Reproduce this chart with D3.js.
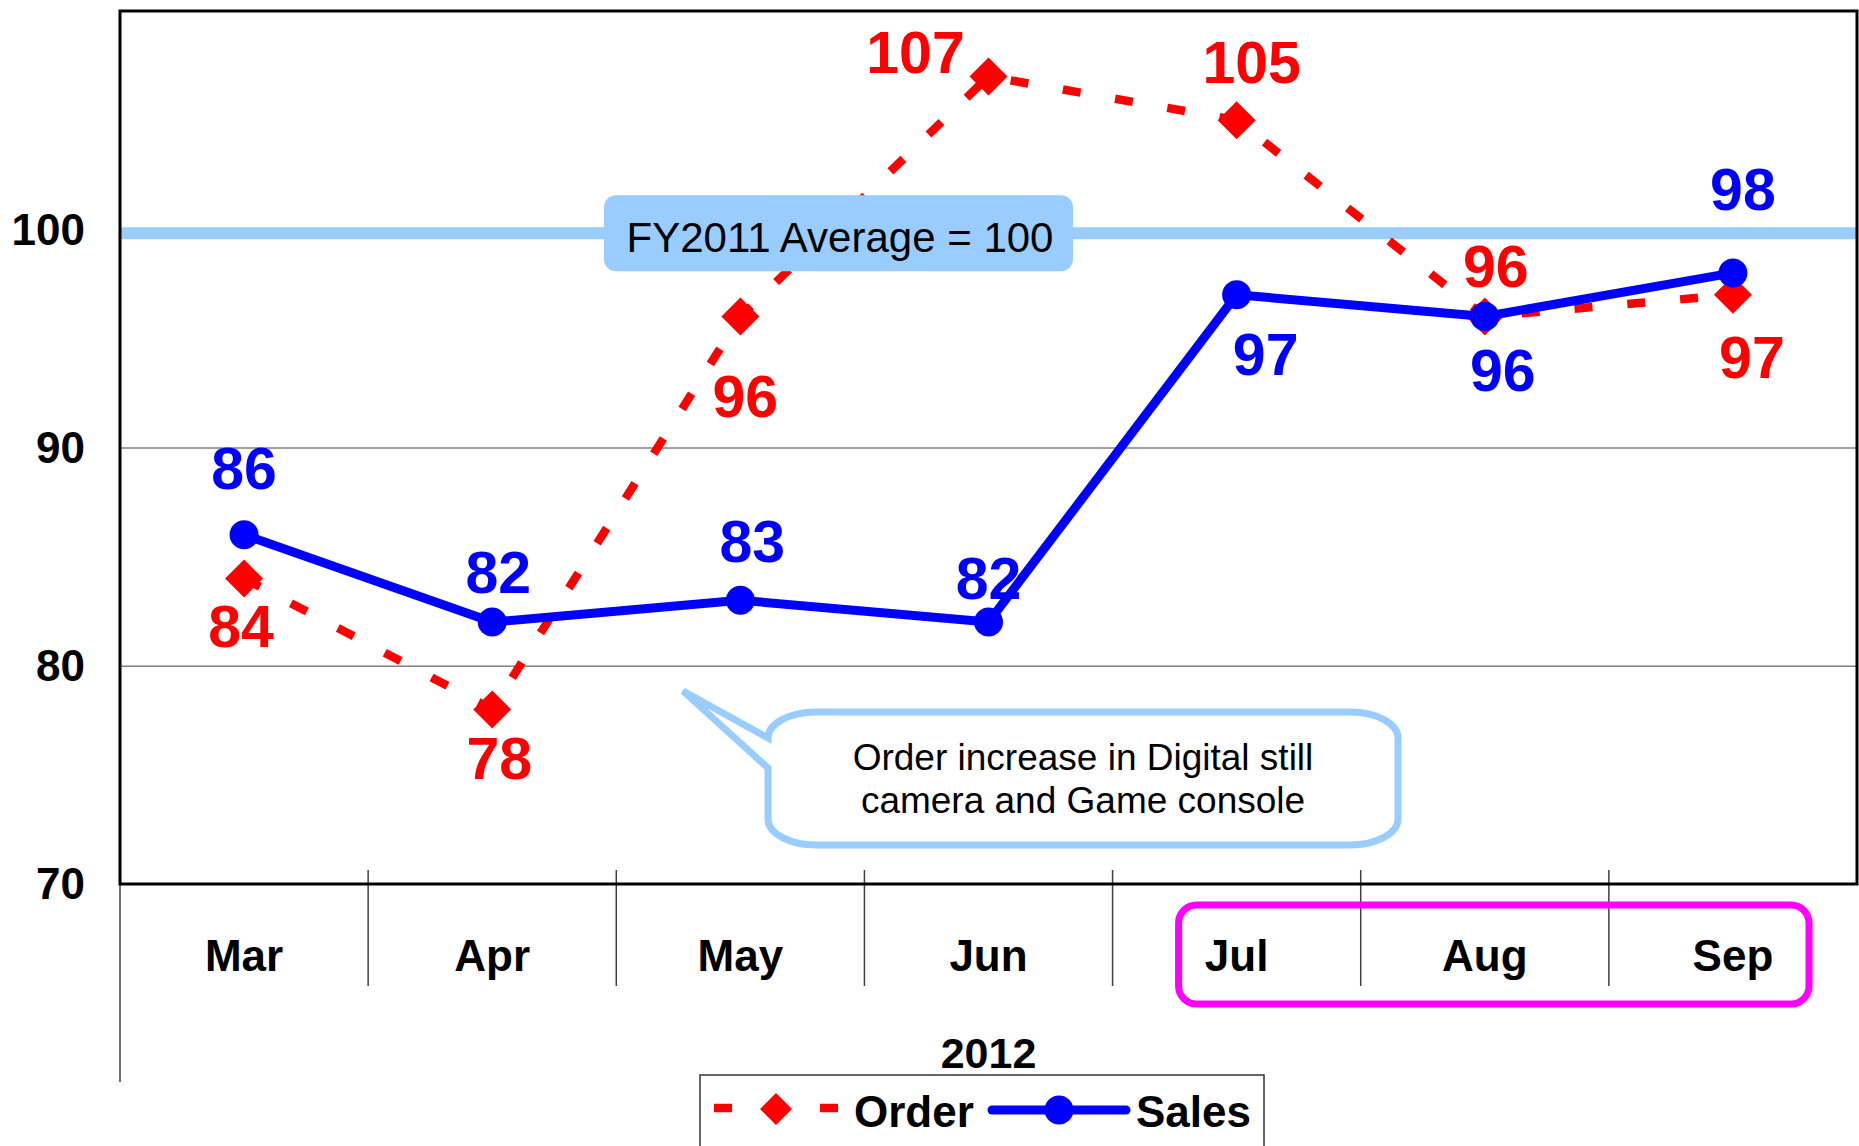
<!DOCTYPE html>
<html>
<head>
<meta charset="utf-8">
<script src="https://cdn.jsdelivr.net/npm/d3@7"></script>
<style>
  body { margin: 0; background: #fff; }
  svg { display: block; font-family: "Liberation Sans", Arial, sans-serif; }
</style>
</head>
<body>
<svg width="1859" height="1146"></svg>
<script>
// chart data
var months = ["Mar", "Apr", "May", "Jun", "Jul", "Aug", "Sep"];
var orderValues = [84, 78, 96, 107, 105, 96, 97];
var salesValues = [86, 82, 83, 82, 97, 96, 98];
var yTicks = [70, 80, 90, 100];
var yearLabel = "2012";
var averageValue = 100;
var averageText = "FY2011 Average = 100";
var calloutLines = ["Order increase in Digital still", "camera and Game console"];

// label placement (dx, dy from the point)
var orderLabelOffset = [[-3, 69], [7, 70], [5, 100], [-73, -3], [15, -37], [11, -30], [19, 83]];
var salesLabelOffset = [[0, -46], [6, -29], [12, -38], [0, -23], [29, 80], [18, 74], [10, -63]];

var svg = d3.select("svg"),
    width = +svg.attr("width"),
    height = +svg.attr("height");

var plot = { left: 120, right: 1857, top: 11, bottom: 884 };

var x = d3.scaleBand()
    .domain(months)
    .range([plot.left, plot.right])
    .padding(0);

var y = d3.scaleLinear()
    .domain([70, 110])
    .range([plot.bottom, plot.top]);

function cx(d, i) { return x(months[i]) + x.bandwidth() / 2; }

var red = "#ff0000", blue = "#0000ff", lightBlue = "#99ccff";

// gridlines
svg.append("g")
    .attr("transform", "translate(" + plot.left + ",0)")
    .call(d3.axisLeft(y).tickValues([80, 90]).tickSize(-(plot.right - plot.left)).tickFormat(""))
    .call(function (g) { g.select(".domain").remove(); })
    .selectAll("line")
    .attr("stroke", "#808080")
    .attr("stroke-width", 1.5);

// average line (drawn a touch below the 100 mark, as in the source)
var avgY = y(averageValue) + 4;
svg.append("line")
    .attr("x1", plot.left)
    .attr("x2", plot.right)
    .attr("y1", avgY)
    .attr("y2", avgY)
    .attr("stroke", lightBlue)
    .attr("stroke-width", 12);

// y axis labels
svg.append("g")
    .attr("transform", "translate(" + plot.left + ",0)")
    .call(d3.axisLeft(y).tickValues(yTicks).tickSize(0).tickPadding(35))
    .call(function (g) { g.select(".domain").remove(); })
    .selectAll("text")
    .attr("font-size", 44)
    .attr("font-weight", "bold")
    .attr("font-family", "Liberation Sans, Arial, sans-serif")
    .attr("fill", "#000")
    .attr("dy", "0.34em");

// month labels
svg.append("g")
    .attr("transform", "translate(0," + plot.bottom + ")")
    .call(d3.axisBottom(x).tickSize(0))
    .call(function (g) { g.select(".domain").remove(); })
    .selectAll("text")
    .attr("y", 87)
    .attr("dy", 0)
    .attr("font-size", 44)
    .attr("font-weight", "bold")
    .attr("font-family", "Liberation Sans, Arial, sans-serif")
    .attr("fill", "#000");

// category separators
svg.append("g")
    .selectAll("line")
    .data(months.slice(1))
    .enter().append("line")
    .attr("x1", function (d) { return x(d); })
    .attr("x2", function (d) { return x(d); })
    .attr("y1", plot.bottom - 14)
    .attr("y2", plot.bottom + 102)
    .attr("stroke", "#404040")
    .attr("stroke-width", 1.5);

// outer left line of the category axis
svg.append("line")
    .attr("x1", plot.left).attr("x2", plot.left)
    .attr("y1", plot.bottom).attr("y2", 1082)
    .attr("stroke", "#404040")
    .attr("stroke-width", 1.5);

svg.append("text")
    .attr("x", (plot.left + plot.right) / 2)
    .attr("y", 1068)
    .attr("text-anchor", "middle")
    .attr("font-size", 43)
    .attr("font-weight", "bold")
    .text(yearLabel);

// magenta highlight round Jul..Sep
svg.append("rect")
    .attr("x", x("Jul") + 66)
    .attr("y", 905)
    .attr("width", x("Sep") + x.bandwidth() - 48 - (x("Jul") + 66))
    .attr("height", 99)
    .attr("rx", 18)
    .attr("fill", "none")
    .attr("stroke", "#ff00ff")
    .attr("stroke-width", 7);

// plot frame
svg.append("rect")
    .attr("x", plot.left)
    .attr("y", plot.top)
    .attr("width", plot.right - plot.left)
    .attr("height", plot.bottom - plot.top)
    .attr("fill", "none")
    .attr("stroke", "#000")
    .attr("stroke-width", 3);

// order series (dashed)
var line = d3.line()
    .x(cx)
    .y(function (d) { return y(d); });

svg.append("path")
    .datum(orderValues)
    .attr("d", line)
    .attr("fill", "none")
    .attr("stroke", red)
    .attr("stroke-width", 8.5)
    .attr("stroke-dasharray", "18,35");

svg.append("g")
    .selectAll("path")
    .data(orderValues)
    .enter().append("path")
    .attr("d", "M0,-19L19,0L0,19L-19,0Z")
    .attr("transform", function (d, i) { return "translate(" + cx(d, i) + "," + y(d) + ")"; })
    .attr("fill", red);

// average box (sits above the order line)
svg.append("rect")
    .attr("x", 604)
    .attr("y", avgY - 38)
    .attr("width", 469)
    .attr("height", 76)
    .attr("rx", 12)
    .attr("fill", lightBlue);

svg.append("text")
    .attr("x", 840)
    .attr("y", avgY + 19)
    .attr("text-anchor", "middle")
    .attr("font-size", 42)
    .attr("fill", "#000")
    .text(averageText);

// sales series
svg.append("path")
    .datum(salesValues)
    .attr("d", line)
    .attr("fill", "none")
    .attr("stroke", blue)
    .attr("stroke-width", 9)
    .attr("stroke-linejoin", "round");

svg.append("g")
    .selectAll("circle")
    .data(salesValues)
    .enter().append("circle")
    .attr("cx", cx)
    .attr("cy", function (d) { return y(d); })
    .attr("r", 14.5)
    .attr("fill", blue);

// value labels
svg.append("g")
    .selectAll("text")
    .data(orderValues)
    .enter().append("text")
    .attr("x", function (d, i) { return cx(d, i) + orderLabelOffset[i][0]; })
    .attr("y", function (d, i) { return y(d) + orderLabelOffset[i][1]; })
    .attr("text-anchor", "middle")
    .attr("font-size", 59)
    .attr("font-weight", "bold")
    .attr("fill", red)
    .text(function (d) { return d; });

svg.append("g")
    .selectAll("text")
    .data(salesValues)
    .enter().append("text")
    .attr("x", function (d, i) { return cx(d, i) + salesLabelOffset[i][0]; })
    .attr("y", function (d, i) { return y(d) + salesLabelOffset[i][1]; })
    .attr("text-anchor", "middle")
    .attr("font-size", 59)
    .attr("font-weight", "bold")
    .attr("fill", blue)
    .text(function (d) { return d; });

// callout
var co = { l: 768, t: 712, r: 1398, b: 845, rx: 48, ry: 26, tipX: 683, tipY: 691 };
var calloutPath = "M" + co.l + "," + (co.t + co.ry) +
    "L" + co.tipX + "," + co.tipY +
    "L" + co.l + "," + (co.t + 56) +
    "L" + co.l + "," + (co.b - co.ry) +
    "A" + co.rx + "," + co.ry + " 0 0 0 " + (co.l + co.rx) + "," + co.b +
    "L" + (co.r - co.rx) + "," + co.b +
    "A" + co.rx + "," + co.ry + " 0 0 0 " + co.r + "," + (co.b - co.ry) +
    "L" + co.r + "," + (co.t + co.ry) +
    "A" + co.rx + "," + co.ry + " 0 0 0 " + (co.r - co.rx) + "," + co.t +
    "L" + (co.l + co.rx) + "," + co.t +
    "A" + co.rx + "," + co.ry + " 0 0 0 " + co.l + "," + (co.t + co.ry) + "Z";

svg.append("path")
    .attr("d", calloutPath)
    .attr("fill", "#fff")
    .attr("stroke", lightBlue)
    .attr("stroke-width", 7)
    .attr("stroke-linejoin", "miter");

svg.append("g")
    .selectAll("text")
    .data(calloutLines)
    .enter().append("text")
    .attr("x", 1083)
    .attr("y", function (d, i) { return 770 + i * 43; })
    .attr("text-anchor", "middle")
    .attr("font-size", 37)
    .attr("fill", "#000")
    .text(function (d) { return d; });

// legend
var legend = svg.append("g").attr("class", "legend");

legend.append("rect")
    .attr("x", 700)
    .attr("y", 1075)
    .attr("width", 564)
    .attr("height", 90)
    .attr("fill", "#fff")
    .attr("stroke", "#333")
    .attr("stroke-width", 1.5);

legend.append("line")
    .attr("x1", 714).attr("x2", 839)
    .attr("y1", 1108).attr("y2", 1108)
    .attr("stroke", red)
    .attr("stroke-width", 8.5)
    .attr("stroke-dasharray", "18,35");

legend.append("path")
    .attr("d", "M0,-16L16,0L0,16L-16,0Z")
    .attr("transform", "translate(776,1109)")
    .attr("fill", red);

legend.append("text")
    .attr("x", 854)
    .attr("y", 1127)
    .attr("font-size", 44)
    .attr("font-weight", "bold")
    .text("Order");

legend.append("line")
    .attr("x1", 992).attr("x2", 1126)
    .attr("y1", 1110).attr("y2", 1110)
    .attr("stroke", blue)
    .attr("stroke-width", 9)
    .attr("stroke-linecap", "round");

legend.append("circle")
    .attr("cx", 1059)
    .attr("cy", 1110)
    .attr("r", 14.5)
    .attr("fill", blue);

legend.append("text")
    .attr("x", 1136)
    .attr("y", 1127)
    .attr("font-size", 44)
    .attr("font-weight", "bold")
    .text("Sales");
</script>
</body>
</html>
